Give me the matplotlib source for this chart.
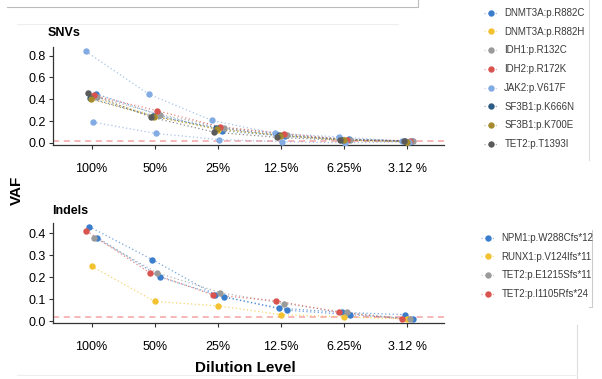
import matplotlib
matplotlib.use("Agg")
import matplotlib.pyplot as plt
from matplotlib.lines import Line2D
from matplotlib.colors import to_rgba
import numpy as np

plt.rcParams['font.family'] = ['Liberation Sans', 'DejaVu Sans']

dilutions = ["100%", "50%", "25%", "12.5%", "6.25%", "3.12 %"]

# SNV series (label, color, values per dilution)
snv_labels = ["DNMT3A:p.R882C", "DNMT3A:p.R882H", "IDH1:p.R132C", "IDH2:p.R172K",
              "JAK2:p.V617F", "SF3B1:p.K666N", "SF3B1:p.K700E", "TET2:p.T1393I"]
snv_colors = ["#3a7dcc", "#f3c231", "#9a9a9a", "#d9544f",
              "#82aae3", "#2d5b86", "#a58b2c", "#5a5a5a"]
dnmt3a_r882c = [0.45, 0.255, 0.11, 0.06, 0.035, 0.015]
dnmt3a_r882h = [0.42, 0.245, 0.12, 0.07, 0.025, 0.01]
idh1_r132c = [0.42, 0.26, 0.14, 0.075, 0.03, 0.015]
idh2_r172k = [0.435, 0.295, 0.147, 0.085, 0.03, 0.02]
jak2_v617f_high = [0.84, 0.445, 0.205, 0.086, 0.055, 0.015]
jak2_v617f_low = [0.19, 0.086, 0.03, 0.01, 0.0, 0.01]
sf3b1_k666n = [0.41, 0.25, 0.14, 0.07, 0.03, 0.015]
sf3b1_k700e = [0.40, 0.24, 0.13, 0.065, 0.025, 0.01]
tet2_t1393i = [0.455, 0.236, 0.098, 0.05, 0.025, 0.015]

# Indel series
indel_labels = ["NPM1:p.W288Cfs*12", "RUNX1:p.V124Ifs*11", "TET2:p.E1215Sfs*11", "TET2:p.I1105Rfs*24"]
indel_colors = ["#3a7dcc", "#f3c231", "#9a9a9a", "#d9544f"]
npm1_a = [0.43, 0.28, 0.12, 0.06, 0.04, 0.03]
npm1_b = [0.38, 0.20, 0.11, 0.05, 0.03, 0.01]
runx1 = [0.25, 0.09, 0.07, 0.03, 0.02, 0.01]
tet2_e1215 = [0.38, 0.22, 0.13, 0.08, 0.04, 0.01]
tet2_i1105 = [0.41, 0.22, 0.12, 0.093, 0.04, 0.01]

threshold = 0.02

# (values, color index, horizontal dodge)
snv_series = [
    (dnmt3a_r882c, 0, 0.07), (dnmt3a_r882h, 1, 0.0), (idh1_r132c, 2, 0.09),
    (idh2_r172k, 3, 0.04), (jak2_v617f_high, 4, -0.09), (jak2_v617f_low, 4, 0.02),
    (sf3b1_k666n, 5, -0.03), (sf3b1_k700e, 6, -0.01), (tet2_t1393i, 7, -0.06),
]
indel_series = [
    (npm1_a, 0, -0.04), (npm1_b, 0, 0.09), (runx1, 1, 0.0),
    (tet2_e1215, 2, 0.04), (tet2_i1105, 3, -0.08),
]

W, H = 602, 379
fig = plt.figure(figsize=(W / 100, H / 100), dpi=100)

ax1 = fig.add_axes([53 / W, 1 - 145 / H, (444 - 53) / W, (145 - 47) / H])
ax2 = fig.add_axes([53 / W, 1 - 323 / H, (444 - 53) / W, (323 - 223) / H])

x = np.arange(len(dilutions))

def draw(ax, series, colors):
    for vals, ci, dx in series:
        ax.plot(x + dx, vals, linestyle=(0, (1, 2)), linewidth=0.9, color=colors[ci],
                alpha=0.7, zorder=2)
        ax.plot(x + dx, vals, linestyle='none', marker='o', markersize=4.6,
                color=colors[ci], markeredgewidth=0, zorder=3)
    ax.axhline(threshold, color="#f4a3a3", linestyle=(0, (4, 3)), linewidth=1.1, zorder=1)
    ax.set_xlim(-0.61, 5.58)
    ax.set_xticks(x)
    ax.set_xticklabels(dilutions, fontsize=9)
    for s in ["top", "right"]:
        ax.spines[s].set_visible(False)
    for s in ["left", "bottom"]:
        ax.spines[s].set_color("#333333")
        ax.spines[s].set_linewidth(0.9)
    ax.tick_params(axis='x', length=3, width=0.8, pad=10, colors="#333333", labelcolor="black")
    ax.tick_params(axis='y', length=3, width=0.8, pad=2, labelsize=9, colors="#333333", labelcolor="black")

draw(ax1, snv_series, snv_colors)
ax1.set_ylim(-0.02, 0.88)
ax1.set_yticks([0.0, 0.2, 0.4, 0.6, 0.8])
ax1.set_yticklabels(["0.0", "0.2", "0.4", "0.6", "0.8"])

draw(ax2, indel_series, indel_colors)
ax2.set_ylim(-0.008, 0.446)
ax2.set_yticks([0.0, 0.1, 0.2, 0.3, 0.4])
ax2.set_yticklabels(["0.0", "0.1", "0.2", "0.3", "0.4"])

fig.text(48 / W, 1 - 33 / H, "SNVs", fontsize=9, fontweight='bold', va='center', ha='left')
fig.text(52 / W, 1 - 211 / H, "Indels", fontsize=9, fontweight='bold', va='center', ha='left')
fig.text(17 / W, 1 - 190 / H, "VAF", fontsize=11, fontweight='bold', rotation=90,
         va='center', ha='center')
fig.text(245 / W, 1 - 368 / H, "Dilution Level", fontsize=11, fontweight='bold',
         va='center', ha='center')

def handles(colors):
    return [Line2D([0], [0], color=to_rgba(c, 0.5), linestyle=(0, (1, 2)), linewidth=0.9,
                   marker='o', markersize=4.6, markerfacecolor=c, markeredgecolor=c,
                   markeredgewidth=0)
            for c in colors]

leg1 = fig.legend(handles(snv_colors), snv_labels, loc='upper left',
                  bbox_to_anchor=(481 / W, 1 - 5 / H), frameon=False, fontsize=7,
                  handlelength=1.4, handletextpad=0.7, labelspacing=0.9,
                  borderaxespad=0, borderpad=0.3, labelcolor="#3a3a3a")
leg2 = fig.legend(handles(indel_colors), indel_labels, loc='upper left',
                  bbox_to_anchor=(478 / W, 1 - 230 / H), frameon=False, fontsize=7,
                  handlelength=1.4, handletextpad=0.7, labelspacing=0.9,
                  borderaxespad=0, borderpad=0.3, labelcolor="#3a3a3a")

# faint frame artifacts of the original composite
def fline(xs, ys, c="#cccccc", lw=0.8):
    fig.add_artist(Line2D([v / W for v in xs], [1 - v / H for v in ys], color=c, linewidth=lw))

fline([7, 418, 418], [7, 7, 0], c="#bbbbbb")
fline([17, 398], [24, 24], c="#eeeeee")
fline([589, 589], [0, 160], c="#dddddd")
fline([592, 592, 589], [230, 307, 307], c="#cccccc")
fline([577, 577], [325, 379], c="#dddddd")
fline([17, 577], [375, 375], c="#eeeeee")

fig.savefig("out.png", dpi=100)
